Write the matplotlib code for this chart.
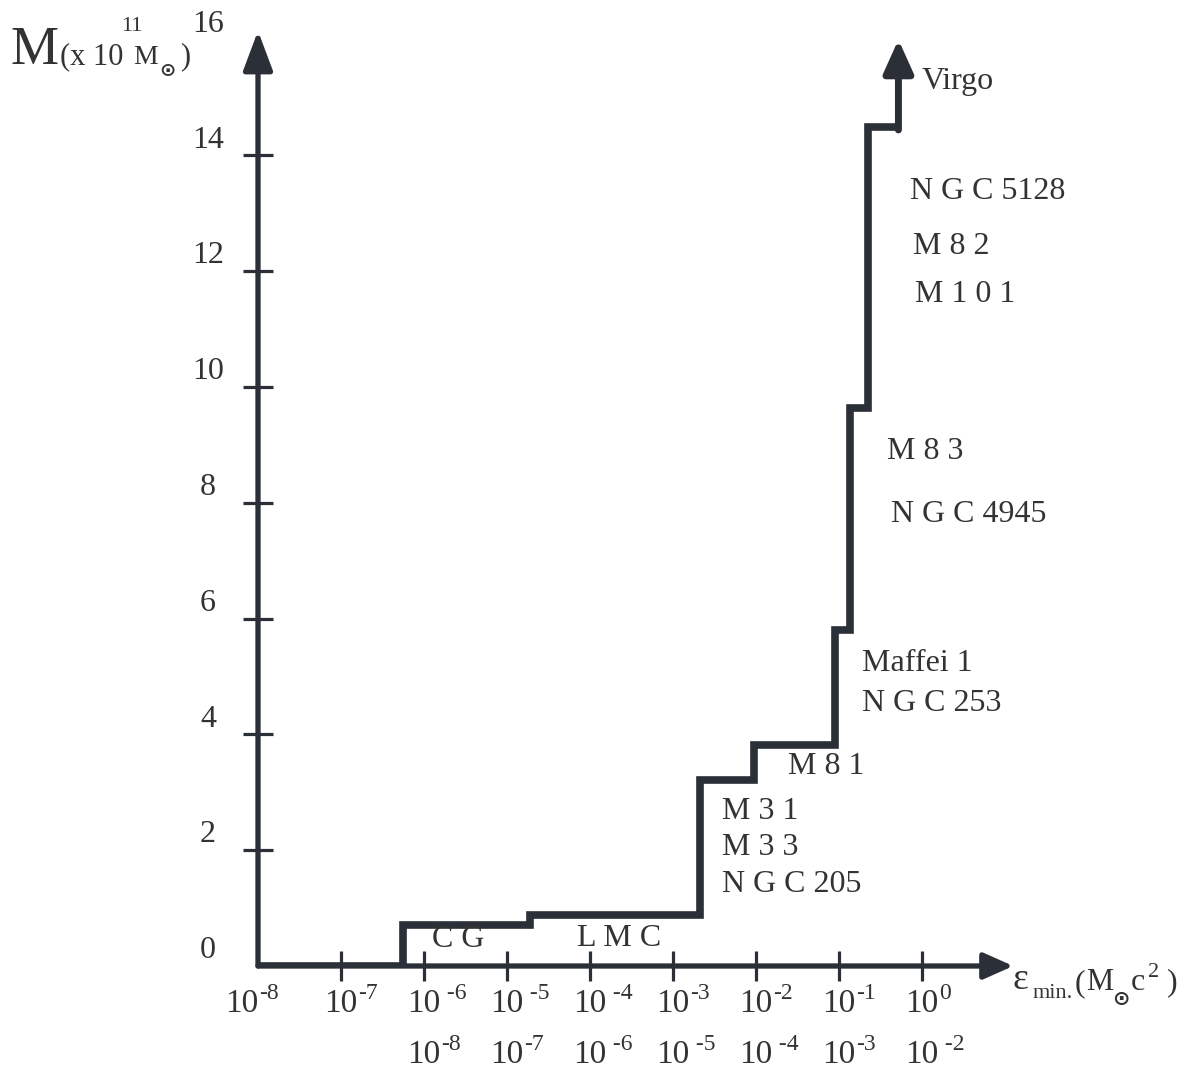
import numpy as np
import matplotlib
matplotlib.use("Agg")
import matplotlib.pyplot as plt

plt.rcParams['font.family'] = ['Liberation Serif', 'DejaVu Serif']

# ---- data ----
# minimal energy thresholds (M_sun c^2) and cumulative mass (10^11 M_sun)
eps_steps = [1e-8, 5.6e-7, 1.9e-5, 2.1e-3, 9.5e-3, 0.089, 0.135, 0.224, 0.52]
mass_steps = [0.0, 0.70, 0.88, 3.21, 3.82, 5.80, 9.64, 14.49, 14.49]
mass_arrow_top = 16.0

galaxies = ["Virgo", "N G C 5128", "M 8 2", "M 1 0 1", "M 8 3", "N G C 4945",
            "Maffei 1", "N G C 253", "M 8 1", "M 3 1", "M 3 3", "N G C 205",
            "C G", "L M C"]
# label anchor (log10 eps, mass)
gal_pos = [(0.0, 15.27), (-0.145, 13.37), (-0.11, 12.42), (-0.08, 11.59),
           (-0.42, 8.89), (-0.37, 7.79), (-0.72, 5.23), (-0.72, 4.54),
           (-1.61, 3.44), (-2.41, 2.66), (-2.41, 2.04), (-2.41, 1.40),
           (-5.90, 0.45), (-4.16, 0.48)]

y_ticks = [2, 4, 6, 8, 10, 12, 14]
y_labels = [0, 2, 4, 6, 8, 10, 12, 14, 16]
x_ticks = [1e-7, 1e-6, 1e-5, 1e-4, 1e-3, 1e-2, 1e-1, 1e0]
# first row of x labels (position, exponent)
row1 = [(1e-8, "-8"), (1e-7, "-7"), (1e-6, " -6"), (1e-5, " -5"), (1e-4, " -4"),
        (1e-3, "-3"), (1e-2, "-2"), (1e-1, "-1"), (1e0, "0")]
# second row of x labels
row2 = [(1e-6, "-8"), (1e-5, "-7"), (1e-4, " -6"), (1e-3, " -5"), (1e-2, " -4"),
        (1e-1, "-3"), (1e0, " -2")]

###########################################
W, H = 1191, 1077
fig = plt.figure(figsize=(W / 100, H / 100), dpi=100)
fig.patch.set_facecolor('white')

# axes: origin at pixel (258, 966), 83 px per decade, 57.9 px per unit
x0, y0 = 258, 966
dec, unit = 83.0, 57.9
xmax_exp, ymax = 1.5, 16.5
ax = fig.add_axes([x0 / W, (H - y0) / H, (xmax_exp + 8) * dec / W, ymax * unit / H])
ax.set_xscale('log')
ax.set_xlim(1e-8, 10 ** xmax_exp)
ax.set_ylim(0, ymax)
for s in ax.spines.values():
    s.set_visible(False)
ax.patch.set_visible(False)

col = '#2b3038'
tcol = '#333333'

# axis arrows
ax.annotate('', xy=(10 ** 1.1, 0), xytext=(1e-8, 0),
            arrowprops=dict(arrowstyle='-|>,head_length=0.9,head_width=0.4', lw=3.8,
                            color=col, mutation_scale=20, shrinkA=0, shrinkB=0),
            annotation_clip=False)
ax.annotate('', xy=(1e-8, 16.15), xytext=(1e-8, 0),
            arrowprops=dict(arrowstyle='-|>,head_length=1.2,head_width=0.45', lw=3.8,
                            color=col, mutation_scale=20, shrinkA=0, shrinkB=0),
            annotation_clip=False)

# ticks
ax.set_xticks(x_ticks)
ax.set_xticks([], minor=True)
ax.set_yticks(y_ticks)
ax.tick_params(axis='both', direction='inout', length=22, width=2.3, color=col,
               labelbottom=False, labelleft=False)

# cumulative mass step line
ax.plot(eps_steps, mass_steps, drawstyle='steps-post', color=col, lw=5.5,
        solid_joinstyle='miter', solid_capstyle='butt')
ax.annotate('', xy=(eps_steps[-1], mass_arrow_top), xytext=(eps_steps[-1], mass_steps[-1] - 0.05),
            arrowprops=dict(arrowstyle='-|>,head_length=1.0,head_width=0.45', lw=5,
                            color=col, mutation_scale=20, shrinkA=0, shrinkB=0),
            annotation_clip=False)

# galaxy labels
for name, (lx, ly) in zip(galaxies, gal_pos):
    ax.text(10 ** lx, ly, name, fontsize=23, color=tcol, ha='left', va='center')

# y tick labels
for v in y_labels:
    ax.annotate(str(v), xy=(1e-8, v), xytext=(-36, 11), textcoords='offset points',
                ha='center', va='center', fontsize=23, color=tcol, annotation_clip=False)

# x tick labels, two rows
def xlabel(x, expo, dy, dx=0):
    ax.annotate('10', xy=(x, 0), xytext=(dx, dy), textcoords='offset points',
                ha='center', va='center', fontsize=24, color=tcol, annotation_clip=False)
    ax.annotate(expo, xy=(x, 0), xytext=(dx + 12.5, dy + 7.5), textcoords='offset points',
                ha='left', va='center', fontsize=17, color=tcol, annotation_clip=False)

for x, e in row1:
    xlabel(x, e, -27, -12 if x == 1e-8 else 0)
for x, e in row2:
    xlabel(x, e, -64)

# axis titles (figure pixel placement)
def ftext(px, py, s, size, **kw):
    kw.setdefault('color', tcol)
    fig.text(px / W, 1 - py / H, s, fontsize=size, va='baseline', ha='left', **kw)

ftext(10, 64, 'M', 39)
ftext(60, 64, '(x 10', 22)
ftext(121, 31, '11', 16)
ftext(133, 64, 'M', 20)
ftext(159, 76, '\u2299', 14, family='DejaVu Sans', fontweight='bold')
ftext(180, 64, ')', 22)

ftext(1013, 989, '\u03b5', 27)
ftext(1033, 998, 'min.', 16)
ftext(1075, 991, '(', 23)
ftext(1086, 990, 'M', 22)
ftext(1112, 1005, '\u2299', 15, family='DejaVu Sans', fontweight='bold')
ftext(1131, 990, 'c', 23)
ftext(1148, 977, '2', 16)
ftext(1167, 990, ')', 23)

plt.savefig('out.png', dpi=100, facecolor='white')
